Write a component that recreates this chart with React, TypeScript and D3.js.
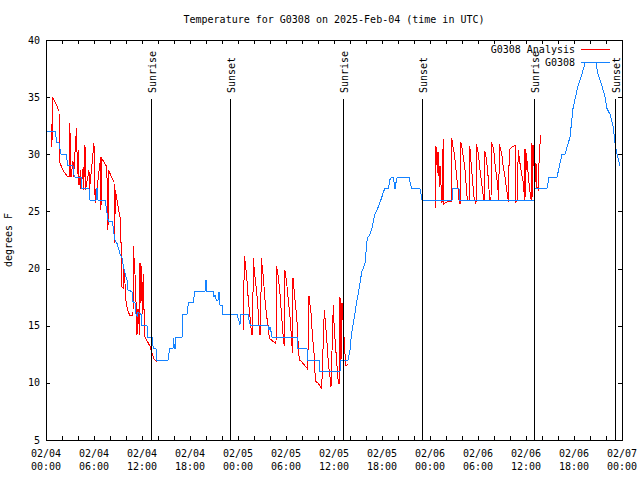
import React from 'react';
import * as d3 from 'd3';

const TITLE = 'Temperature for G0308 on 2025-Feb-04 (time in UTC)';
const Y_LABEL = 'degrees F';
const Y_TICKS = [5, 10, 15, 20, 25, 30, 35, 40];
const X_TICK_HOURS = [0, 6, 12, 18, 24, 30, 36, 42, 48, 54, 60, 66, 72];
const X_TICK_DATES = ['02/04', '02/04', '02/04', '02/04', '02/05', '02/05', '02/05', '02/05', '02/06', '02/06', '02/06', '02/06', '02/07'];
const X_TICK_TIMES = ['00:00', '06:00', '12:00', '18:00', '00:00', '06:00', '12:00', '18:00', '00:00', '06:00', '12:00', '18:00', '00:00'];
const X_MINOR_HOURS = d3.range(0, 73, 2);

const SUN_LABELS = ['Sunrise', 'Sunset', 'Sunrise', 'Sunset', 'Sunrise', 'Sunset'];
const SUN_HOURS = [13.125, 23.04, 37.16, 47.04, 61.04, 71.09];

const SERIES_NAMES = ['G0308 Analysis', 'G0308'];

// Observed temperature (hours since 02/04 00:00 UTC, deg F)
const obsHours = [0, 1.125, 1.25, 1.375, 1.625, 1.75, 1.875, 2.5, 2.625, 2.75, 3.375, 3.5, 3.625, 4.375, 4.5, 5.375, 5.5, 6.25, 6.31, 6.44, 6.5, 7.375, 7.5, 7.69, 7.81, 8.31, 8.5, 8.625, 8.875, 9.0, 9.25, 9.5, 9.625, 9.75, 9.875, 10.125, 10.25, 10.75, 10.875, 11.125, 11.25, 11.44, 11.5, 11.875, 11.94, 12.625, 12.69, 13.25, 13.31, 13.44, 13.75, 13.81, 15.25, 15.375, 15.5, 15.875, 15.94, 16.06, 16.19, 16.25, 17.0, 17.06, 17.125, 17.625, 17.69, 17.81, 18.375, 18.5, 18.625, 19.875, 20.0, 20.125, 20.875, 21.0, 21.125, 21.31, 21.5, 21.56, 21.69, 21.75, 22.06, 22.125, 23.875, 24.0, 24.25, 24.375, 25.25, 25.375, 25.56, 27.75, 27.875, 28.0, 28.125, 28.25, 31.375, 31.44, 31.5, 32.625, 32.69, 34.125, 34.25, 36.75, 36.875, 37.75, 38.0, 38.21, 38.41, 38.625, 38.84, 39.04, 39.25, 39.46, 39.66, 39.875, 40.0, 40.16, 40.41, 40.71, 40.91, 41.125, 41.34, 41.54, 41.75, 41.96, 42.16, 42.375, 42.79, 43.0, 43.21, 43.41, 43.625, 43.84, 44.0, 45.375, 45.69, 46.75, 47.0, 50.75, 50.81, 51.625, 51.69, 61.0, 61.125, 62.625, 62.875, 63.875, 64.5, 64.875, 65.5, 65.875, 66.5, 67.0, 67.375, 68.75, 69.0, 69.5, 69.875, 70.125, 70.5, 70.875, 71.125, 71.375, 71.75];
const obsTemps = [32, 32, 31.5, 31, 31, 30.5, 30, 30, 29.5, 29, 29, 28.2, 28, 28, 27, 27, 26, 26, 27, 27, 26, 26, 25.5, 24.5, 24.1, 24.1, 23, 22.5, 22.2, 21.9, 21.3, 20.9, 20.4, 20, 19.6, 19, 18.1, 18, 17.1, 17, 16, 15.8, 16.2, 16, 15, 15, 14, 14, 13.5, 13, 13, 12, 12, 12.6, 13, 13, 13.9, 13, 13, 14, 14, 15, 16, 16, 16.5, 17, 17, 17.5, 18, 18, 19, 18, 18, 17.5, 17.7, 17.2, 17.2, 17.9, 17.9, 16.8, 16.8, 16, 16, 15.7, 15.1, 16, 16, 15.5, 15, 15, 14.6, 14.9, 14.5, 14, 14, 13.5, 13, 13, 12, 12, 11, 11, 12, 12, 12.9, 14.4, 15.2, 16.1, 17.1, 17.8, 18.7, 19.7, 20, 20.5, 21.4, 22.7, 22.9, 23.4, 24.1, 24.8, 25.1, 25.4, 25.8, 26.2, 26.7, 27, 27, 27.8, 28, 28, 27, 27.9, 28, 28, 27, 27, 26, 26, 27, 27, 26, 26, 27, 27, 28, 28, 30, 30, 31.5, 34, 36, 37, 38, 38, 37, 36, 35, 34, 33.5, 32.5, 31, 30, 29];

// Analysis temperature, three separate runs [hour, deg F]
const analysisNight1: [number, number][] = [
  [0.625, 32.8], [0.65, 30.7], [0.75, 30.7], [0.775, 35], [1.125, 34.6], [1.625, 33.8], [1.66, 29.4], [2.125, 28.6], [2.625, 28.1], [2.94, 28.1], [2.975, 32.7], [3.125, 28], [3.375, 29.4], [3.44, 28], [3.81, 32.3], [3.94, 28.3], [4.04, 30.4], [4.125, 27.3], [4.34, 28.6], [4.375, 27], [4.66, 28.9], [4.7, 26.9], [4.875, 30.8], [4.94, 26.9], [5.375, 28.6], [5.41, 26.7], [6.0, 31], [6.04, 26.4], [6.125, 27], [6.16, 25.7], [6.84, 29.8], [6.875, 25.1], [6.91, 29.7], [7.6, 28.9], [7.75, 23.4], [7.8, 28.6], [8.5, 27.6], [8.6, 22.2], [8.65, 26.9], [9.25, 24.5], [9.4, 21.9], [9.44, 18.4], [9.66, 18.3], [9.7, 20.2], [9.875, 18.7], [9.91, 17.7], [10.09, 16.7], [10.29, 16.2], [10.5, 15.9], [10.875, 15.9], [10.91, 22], [11.125, 19.5], [11.31, 16], [11.375, 14.2], [11.5, 16.5], [11.72, 14.2], [11.75, 20.5], [11.875, 17], [11.94, 20.2], [12.125, 16], [12.16, 19.5], [12.31, 14.5], [12.375, 14], [12.69, 13.6], [13.0, 13.2], [13.25, 12.6], [13.5, 12.1], [13.91, 11.8],
];
const analysisNight2: [number, number][] = [
  [24.625, 14.5], [24.81, 21.1], [25.09, 19.3], [25.29, 17.25], [25.5, 15.8], [25.71, 14.2], [25.85, 14.2], [25.9, 20.9], [26.125, 19.3], [26.34, 17.9], [26.54, 16.1], [26.69, 14.2], [26.85, 14.2], [26.9, 20.9], [27.16, 19.3], [27.375, 17.25], [27.59, 15.8], [27.79, 14.9], [27.91, 13.9], [28.21, 13.75], [28.41, 13.6], [28.75, 13.45], [28.81, 20.2], [29.04, 19.3], [29.25, 17.8], [29.46, 15.8], [29.66, 14], [29.79, 13.2], [29.85, 19.9], [30.09, 18.7], [30.29, 17.25], [30.5, 15.8], [30.71, 13.75], [30.8, 12.6], [30.875, 19.15], [31.125, 17.25], [31.34, 15.8], [31.54, 13.2], [31.66, 12], [31.96, 11.85], [32.375, 11.5], [32.71, 11.2], [32.875, 17.6], [33.125, 16.1], [33.29, 14.3], [33.5, 12.6], [33.625, 10.85], [33.75, 10.1], [34.04, 9.95], [34.46, 9.5], [34.79, 16.4], [35.0, 14.6], [35.16, 13.2], [35.29, 11.7], [35.5, 10.55], [35.625, 9.65], [35.91, 16.8], [36.04, 14.6], [36.2, 13.2], [36.34, 11.7], [36.46, 10.85], [36.54, 9.9], [36.71, 10], [36.75, 17.55], [36.875, 12], [37.0, 17], [37.25, 14], [37.375, 12.5], [37.5, 11.5], [37.75, 11.6],
];
const analysisNight3: [number, number][] = [
  [48.625, 30.9], [48.7, 25.3], [48.775, 30.6], [48.94, 28.4], [49.0, 30.2], [49.19, 27.1], [49.25, 29], [49.5, 25.7], [49.65, 31.3], [49.7, 25.6], [50.0, 25.8], [50.69, 25.9], [50.725, 31.4], [50.84, 30.8], [51.04, 30.1], [51.25, 28.6], [51.41, 27.5], [51.54, 26.9], [51.66, 25.7], [51.79, 25.7], [51.825, 31.1], [51.96, 30.7], [52.16, 29.8], [52.375, 28.6], [52.5, 27.5], [52.66, 26], [52.94, 26], [52.975, 30.7], [53.21, 28.6], [53.34, 27.5], [53.5, 26.3], [53.75, 25.65], [53.8, 30.9], [54.04, 30.1], [54.25, 28.6], [54.5, 27.2], [54.66, 26.3], [54.775, 25.9], [54.84, 30.3], [55.0, 29.8], [55.21, 28.6], [55.34, 27.2], [55.5, 26], [55.625, 26], [55.66, 31], [55.84, 30.8], [56.0, 30.1], [56.16, 28.9], [56.34, 28], [56.5, 26.9], [56.6, 26], [56.66, 30.9], [56.96, 30.1], [57.16, 28.9], [57.375, 28], [57.59, 26.9], [57.79, 25.85], [57.85, 26], [57.89, 30.4], [58.375, 30.7], [58.71, 30.8], [58.75, 25.85], [58.975, 26], [59.01, 30.4], [59.25, 29.2], [59.46, 28.3], [59.66, 27.5], [59.84, 26], [59.875, 30.5], [59.94, 26.3], [60.04, 30.1], [60.16, 29.2], [60.34, 27.75], [60.5, 26.7], [60.65, 26], [60.7, 31], [60.81, 26.3], [60.875, 30.8], [61.0, 29], [61.125, 27.5], [61.25, 29.2], [61.375, 27.1], [61.56, 26.9], [61.625, 29.2], [61.81, 31.7],
];

const W = 640;
const H = 480;
const M = { left: 46, right: 622, top: 40, bottom: 440 };
const FONT = '"DejaVu Sans Mono", "Liberation Mono", monospace';
const RED = '#ff0000';
const BLUE = '#1482ff';

export default function App() {
  const x = d3.scaleLinear().domain([0, 72]).range([M.left, M.right]);
  const y = d3.scaleLinear().domain([5, 40]).range([M.bottom, M.top]);

  const obs: [number, number][] = obsHours.map((h, i) => [h, obsTemps[i]]);
  const line = d3
    .line<[number, number]>()
    .x((d) => x(d[0]))
    .y((d) => y(d[1]));

  const tickLen = 4;
  const legendRows = [
    { name: SERIES_NAMES[0], color: RED, yy: 49 },
    { name: SERIES_NAMES[1], color: BLUE, yy: 62 },
  ];

  return (
    <div style={{ position: 'fixed', left: 0, top: 0, width: W, height: H, background: '#fff' }}>
      <svg width={W} height={H} style={{ display: 'block' }} fontFamily={FONT} fontSize={10}>
        <rect x={0} y={0} width={W} height={H} fill="#fff" />
        <text x={(M.left + M.right) / 2} y={19} textAnchor="middle" dominantBaseline="central" fill="#000">
          {TITLE}
        </text>

        {/* data */}
        <g fill="none" strokeWidth={1} shapeRendering="crispEdges">
          {[analysisNight1, analysisNight2, analysisNight3].map((seg, i) => (
            <path key={i} d={line(seg) || ''} stroke={RED} />
          ))}
          <path d={line(obs) || ''} stroke={BLUE} />
        </g>

        {/* sunrise / sunset */}
        {SUN_HOURS.map((h, i) => {
          const px = Math.round(x(h)) + 0.5;
          return (
            <g key={i}>
              <line x1={px} x2={px} y1={99} y2={M.bottom} stroke="#000" strokeWidth={1} shapeRendering="crispEdges" />
              <text
                transform={`translate(${px + 4.5},93) rotate(-90)`}
                textAnchor="start"
                fill="#000"
              >
                {SUN_LABELS[i]}
              </text>
            </g>
          );
        })}

        {/* frame */}
        <rect
          x={M.left + 0.5}
          y={M.top + 0.5}
          width={M.right - M.left}
          height={M.bottom - M.top}
          fill="none"
          stroke="#000"
          strokeWidth={1}
          shapeRendering="crispEdges"
        />

        {/* x ticks */}
        {X_MINOR_HOURS.map((h) => {
          const px = Math.round(x(h)) + 0.5;
          return (
            <g key={h} stroke="#000" shapeRendering="crispEdges">
              <line x1={px} x2={px} y1={M.bottom} y2={M.bottom - tickLen} />
              <line x1={px} x2={px} y1={M.top} y2={M.top + tickLen} />
            </g>
          );
        })}
        {X_TICK_HOURS.map((h, i) => (
          <g key={h} fill="#000" textAnchor="middle">
            <text x={x(h)} y={453} dominantBaseline="central">
              {X_TICK_DATES[i]}
            </text>
            <text x={x(h)} y={466} dominantBaseline="central">
              {X_TICK_TIMES[i]}
            </text>
          </g>
        ))}

        {/* y ticks */}
        {Y_TICKS.map((t) => {
          const py = Math.round(y(t)) + 0.5;
          return (
            <g key={t}>
              <line x1={M.left} x2={M.left + tickLen} y1={py} y2={py} stroke="#000" shapeRendering="crispEdges" />
              <line x1={M.right} x2={M.right - tickLen} y1={py} y2={py} stroke="#000" shapeRendering="crispEdges" />
              <text x={40} y={y(t)} textAnchor="end" dominantBaseline="central" fill="#000">
                {t}
              </text>
            </g>
          );
        })}

        <text transform="translate(12,240) rotate(-90)" textAnchor="middle" fill="#000">
          {Y_LABEL}
        </text>

        {/* legend */}
        {legendRows.map((r) => (
          <g key={r.name}>
            <text x={575} y={r.yy} textAnchor="end" dominantBaseline="central" fill="#000">
              {r.name}
            </text>
            <line x1={581} x2={610} y1={r.yy + 0.5} y2={r.yy + 0.5} stroke={r.color} strokeWidth={1} shapeRendering="crispEdges" />
          </g>
        ))}
      </svg>
    </div>
  );
}
